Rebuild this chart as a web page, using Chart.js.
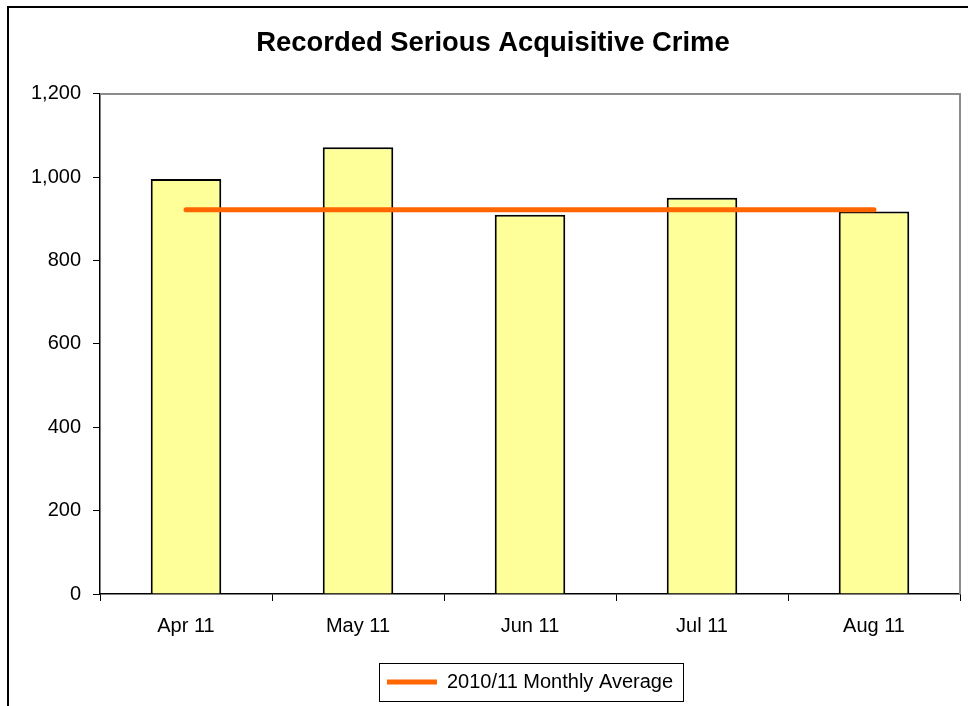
<!DOCTYPE html>
<html>
<head>
<meta charset="utf-8">
<title>Recorded Serious Acquisitive Crime</title>
<script src="https://cdn.jsdelivr.net/npm/chart.js@4.4.1/dist/chart.umd.min.js"></script>
<style>
    html, body { margin: 0; padding: 0; background: #fff; }
    #wrap { width: 968px; height: 706px; }
</style>
</head>
<body>
<div id="wrap"><canvas id="crime-chart"></canvas></div>
<script>
const months = ['Apr 11', 'May 11', 'Jun 11', 'Jul 11', 'Aug 11'];
const recordedCrime = [996, 1072, 910, 951, 918];
const monthlyAverage = [922, 922, 922, 922, 922];
const yTickValues = [0, 200, 400, 600, 800, 1000, 1200];

// outer frame + grey top/right edge of the plot area
const framePlugin = {
    id: 'frame',
    beforeDraw(chart) {
        const ctx = chart.ctx;
        ctx.save();
        ctx.fillStyle = '#fff';
        ctx.fillRect(0, 0, chart.width, chart.height);
        ctx.strokeStyle = '#000';
        ctx.lineWidth = 2;
        ctx.strokeRect(8, 7, chart.width + 20, chart.height + 20);
        ctx.restore();
    },
    afterDatasetsDraw(chart) {
        const { ctx } = chart;
        const x = chart.scales.x, y = chart.scales.y;
        ctx.save();
        ctx.strokeStyle = '#8c8c8c';
        ctx.lineWidth = 2;
        ctx.beginPath();
        ctx.moveTo(x.left, y.top);
        ctx.lineTo(x.right, y.top);
        ctx.lineTo(x.right, y.bottom);
        ctx.stroke();
        ctx.restore();
    },
    afterDraw(chart) {
        // box round the legend
        const hb = chart.legend.legendHitBoxes[0];
        if (!hb) return;
        const ctx = chart.ctx;
        ctx.save();
        ctx.strokeStyle = '#000';
        ctx.lineWidth = 1;
        ctx.strokeRect(Math.round(hb.left - 8) + 0.5, Math.round(hb.top + hb.height / 2 - 19) + 0.5,
            Math.round(hb.width + 18), 38);
        ctx.restore();
    }
};

Chart.defaults.font.family = 'Arial, "Liberation Sans", sans-serif';
Chart.defaults.color = '#000';

new Chart(document.getElementById('crime-chart'), {
    type: 'bar',
    data: {
        labels: months,
        datasets: [{
            type: 'line',
            label: '2010/11 Monthly Average',
            data: monthlyAverage,
            borderColor: '#ff6600',
            backgroundColor: '#ff6600',
            borderWidth: 5,
            borderCapStyle: 'round',
            pointRadius: 0,
            pointHoverRadius: 0,
            order: 0
        },
        {
            label: 'Recorded Serious Acquisitive Crime',
            data: recordedCrime,
            backgroundColor: '#ffff99',
            borderColor: '#000',
            borderWidth: 2,
            barPercentage: 0.41,
            categoryPercentage: 1,
            order: 1
        }]
    },
    options: {
        responsive: true,
        maintainAspectRatio: false,
        animation: false,
        layout: {
            padding: { left: 26, right: 8, top: 0, bottom: 4 }
        },
        scales: {
            x: {
                grid: {
                    display: true,
                    drawOnChartArea: false,
                    drawTicks: true,
                    tickLength: 7,
                    color: '#000',
                    offset: true
                },
                border: { display: true, color: '#000', width: 1.5 },
                ticks: {
                    padding: 13,
                    font: { size: 20 }
                },
                afterFit(scale) {
                    scale.height = 70;
                }
            },
            y: {
                min: 0,
                max: 1200,
                afterBuildTicks(scale) {
                    scale.ticks = yTickValues.map(v => ({ value: v }));
                },
                grid: {
                    drawOnChartArea: false,
                    drawTicks: true,
                    tickLength: 7,
                    color: '#000'
                },
                border: { display: true, color: '#000', width: 1.5 },
                ticks: {
                    padding: 12,
                    font: { size: 20 },
                    callback: v => v.toLocaleString('en-US')
                },
                afterFit(scale) {
                    scale.width = 74;
                }
            }
        },
        plugins: {
            title: {
                display: true,
                text: 'Recorded Serious Acquisitive Crime',
                font: { size: 27.4, weight: 'bold' },
                padding: { top: 27, bottom: 34 }
            },
            legend: {
                position: 'bottom',
                fullSize: false,
                labels: {
                    filter: item => item.datasetIndex === 0,
                    usePointStyle: true,
                    pointStyle: 'line',
                    pointStyleWidth: 50,
                    font: { size: 20 },
                    padding: 8
                }
            },
            tooltip: { enabled: false }
        }
    },
    plugins: [framePlugin]
});
</script>
</body>
</html>
